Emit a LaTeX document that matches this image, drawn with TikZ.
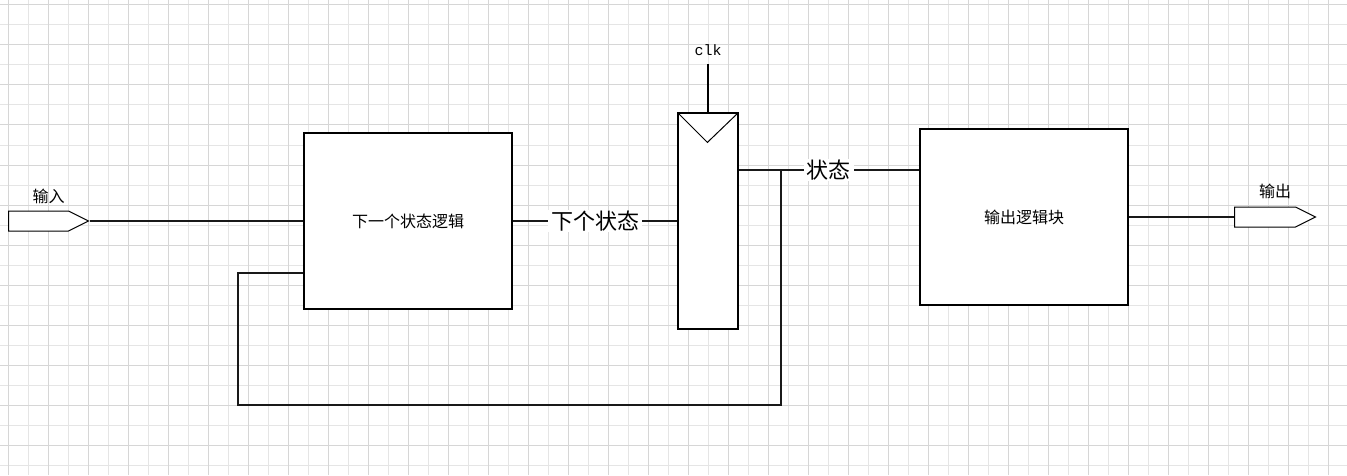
\documentclass[tikz,border=0pt]{standalone}
\usepackage{fontspec}
\setmainfont{Noto Sans CJK SC}
\setmonofont{Liberation Mono}
\usetikzlibrary{positioning,shapes.symbols}

\begin{document}
\begin{tikzpicture}[
		x=1pt, y=1pt,
		block/.style = {
			draw, rectangle, fill=white,
			line width=1.2pt,
			minimum width=208pt,
			minimum height=176pt,
			inner sep=0pt,
			font=\fontsize{16}{16}\selectfont
		},
		port/.style = {
			draw, signal, signal to=east, signal pointer angle=53.13,
			fill=white, line width=1pt,
			minimum width=80pt, minimum height=20pt,
			inner sep=0pt, anchor=west
		},
		wire/.style = {line width=2.2pt, draw=black!90},
		tag/.style = {fill=white, inner xsep=3pt, inner ysep=1pt, font=\fontsize{22}{22}\selectfont},
		pin/.style = {inner sep=0pt, font=\fontsize{16}{16}\selectfont},
		minor/.style = {line width=1pt, draw=black!10},
		major/.style = {line width=1pt, draw=black!16}
	]
	\fill[white] (0,0) rectangle (1347,475);
	\useasboundingbox (0,0) rectangle (1347,475);
	% grid
	\foreach \x in {28,68,...,1348} \draw[minor] (\x,0) -- (\x,475);
	\foreach \y in {10,50,...,470} \draw[minor] (0,\y) -- (1347,\y);
	\foreach \x in {8,48,...,1348} \draw[major] (\x,0) -- (\x,475);
	\foreach \y in {30,70,...,470} \draw[major] (0,\y) -- (1347,\y);

	\node[block] (nsl) at (408,254) {下一个状态逻辑};
	\node[draw, rectangle, fill=white, line width=1.2pt, minimum width=60pt, minimum height=216pt] (reg) at (708,254) {};
	\node[block] (ol) at (1024,258) {输出逻辑块};
	\node[port] (in) at (8,254) {};
	\node[port, minimum width=81pt] (out) at (1234,258) {};
	\node[pin, above=7pt of in, xshift=10pt] (inl) {输入};
	\node[pin, above=8pt of out, xshift=10pt] (outl) {输出};
	\node[font=\fontsize{15}{15}\selectfont\ttfamily, inner xsep=0pt, inner ysep=9pt, above=48pt of reg.north] (clk) {clk};
	\coordinate (j) at (781,305);
	\coordinate (fb) at (238,70);

	\draw[line width=1pt] (reg.north west) -- ++(30,-30) -- (reg.north east);
	\draw[line width=1.2pt] (reg.north) -- (clk.south);
	\draw[wire] (in.east) -- (nsl.west);
	\draw[wire] (nsl.east) -- node[tag] {下个状态} (reg.west);
	\draw[wire] (j) |- (fb) |- ([yshift=-52pt]nsl.west);
	\draw[wire] (reg.east |- j) -- (j) -- node[tag, pos=0.345] {状态} (ol.west |- j);
	\draw[wire] (ol.east) -- (out.west);
\end{tikzpicture}
\end{document}
